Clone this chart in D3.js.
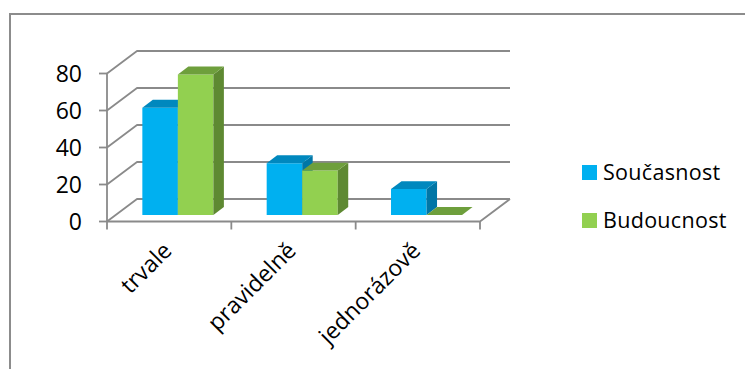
<!DOCTYPE html>
<html>
<head>
<meta charset="utf-8">
<script src="https://cdn.jsdelivr.net/npm/d3@7"></script>
<style>
  html, body { margin: 0; padding: 0; background: #fff; }
  svg { display: block; }
  text { font-family: "Open Sans", "DejaVu Sans", sans-serif; fill: #000; }
</style>
</head>
<body>
<svg id="chart" width="745" height="369"></svg>
<script>
// Categories, series and values
const categories = ["trvale", "pravidelně", "jednorázově"];
const seriesNames = ["Současnost", "Budoucnost"];
const valuesCurrent = [58, 28, 14];
const valuesFuture = [76, 24, 0];
const yTicks = [0, 20, 40, 60, 80];

const seriesValues = [valuesCurrent, valuesFuture];
const palette = [
  { front: "#00B0F0", top: "#0088BE", side: "#0076A6" },
  { front: "#92D050", top: "#6E9F3C", side: "#5E8932" }
];

const svg = d3.select("#chart");

// Chart area frame
svg.append("rect")
  .attr("x", 10).attr("y", 14)
  .attr("width", 800).attr("height", 400)
  .attr("fill", "#fff")
  .attr("stroke", "#8c8c8c").attr("stroke-width", 2);

// Front plane scales
const x0 = d3.scaleBand().domain(categories).range([107, 480]).padding(0);
const x1 = d3.scaleBand().domain(seriesNames).range([0, x0.bandwidth()])
  .paddingInner(0).paddingOuter(0.75);
const y = d3.scaleLinear().domain([0, 80]).range([221.5, 73.5]);

// Oblique depth of the 3D box and of the bars inside it
const depth = { dx: 30, dy: -22.5 };
const barFront = 0.29;   // fraction of depth where bar fronts sit
const barDepth = 0.35;   // fraction of depth occupied by each bar

const gridColor = "#8a8a8a";
const grid = svg.append("g")
  .attr("fill", "none").attr("stroke", gridColor).attr("stroke-width", 1.8)
  .attr("stroke-linejoin", "round");

const xL = x0.range()[0], xR = x0.range()[1];

// Side-wall diagonals and back-wall gridlines
yTicks.forEach(t => {
  const yy = y(t);
  grid.append("path").attr("d",
    `M${xL},${yy}L${xL + depth.dx},${yy + depth.dy}L${xR + depth.dx},${yy + depth.dy}`);
});
// Floor: right edge and front edge
grid.append("path").attr("d",
  `M${xR + depth.dx},${y(0) + depth.dy}L${xR},${y(0)}L${xL},${y(0)}`);

// Value axis (front)
const yAxis = svg.append("g");
yAxis.append("line")
  .attr("x1", xL).attr("x2", xL).attr("y1", y(80)).attr("y2", y(0))
  .attr("stroke", gridColor).attr("stroke-width", 1.8);
yAxis.selectAll("line.tick").data(yTicks).join("line")
  .attr("class", "tick")
  .attr("x1", xL - 8).attr("x2", xL)
  .attr("y1", d => y(d)).attr("y2", d => y(d))
  .attr("stroke", gridColor).attr("stroke-width", 1.8);
yAxis.selectAll("text").data(yTicks).join("text")
  .attr("x", 82).attr("y", d => y(d)).attr("dy", "0.38em")
  .attr("text-anchor", "end")
  .style("font-size", "23px")
  .text(d => d);

// Category axis ticks at band boundaries
const boundaries = categories.map(c => x0(c)).concat([xR]);
svg.append("g").selectAll("line").data(boundaries).join("line")
  .attr("x1", d => d).attr("x2", d => d)
  .attr("y1", y(0)).attr("y2", y(0) + 8)
  .attr("stroke", gridColor).attr("stroke-width", 1.8);

// Bars: front face, top and right side
const fdx = depth.dx * barFront, fdy = depth.dy * barFront;
const bdx = depth.dx * barDepth, bdy = depth.dy * barDepth;
const bars = svg.append("g");
categories.forEach((cat, ci) => {
  seriesNames.forEach((s, si) => {
    const v = seriesValues[si][ci];
    const col = palette[si];
    const xa = x0(cat) + x1(s) + fdx;
    const xb = xa + x1.bandwidth();
    const yb = y(0) + fdy;
    const yt = y(v) + fdy;
    const g = bars.append("g");
    if (v > 0) {
      g.append("path").attr("fill", col.front)
        .attr("d", `M${xa},${yb}L${xb},${yb}L${xb},${yt}L${xa},${yt}Z`);
    }
    g.append("path").attr("fill", col.side)
      .attr("d", `M${xb},${yb}L${xb + bdx},${yb + bdy}L${xb + bdx},${yt + bdy}L${xb},${yt}Z`);
    g.append("path").attr("fill", col.top)
      .attr("d", `M${xa},${yt}L${xb},${yt}L${xb + bdx},${yt + bdy}L${xa + bdx},${yt + bdy}Z`);
  });
});

// Rotated category labels
svg.append("g").selectAll("text").data(categories).join("text")
  .attr("text-anchor", "end")
  .attr("transform", d => `translate(${x0(d) + x0.bandwidth() / 2 + 4},${252}) rotate(-45)`)
  .style("font-size", "23px")
  .text(d => d);

// Legend
const legend = svg.append("g");
seriesNames.forEach((s, i) => {
  const ly = 165 + i * 48;
  legend.append("rect")
    .attr("x", 582).attr("y", ly).attr("width", 15).attr("height", 15)
    .attr("fill", palette[i].front);
  legend.append("text")
    .attr("x", 603).attr("y", ly + 14.5)
    .style("font-size", "21.5px")
    .style("letter-spacing", "0.3px")
    .text(s);
});
</script>
</body>
</html>
